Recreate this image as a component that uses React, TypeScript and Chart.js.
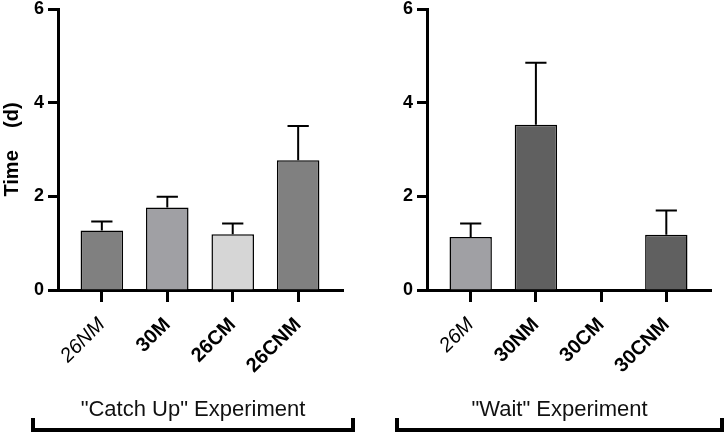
import React, { useEffect, useRef } from "react";
import { Chart, registerables } from "chart.js";

Chart.register(...registerables);

// ---- data ----
const catchUpLabels = ["26NM", "30M", "26CM", "26CNM"];
const catchUpValues = [1.27, 1.76, 1.19, 2.77];
const catchUpErrors = [0.19, 0.23, 0.23, 0.73];
const catchUpColors = ["#808080", "#a0a0a4", "#d6d6d6", "#808080"];
const catchUpItalic = [true, false, false, false];

const waitLabels = ["26M", "30NM", "30CM", "30CNM"];
const waitValues = [1.13, 3.53, 0, 1.18];
const waitErrors = [0.29, 1.32, 0, 0.52];
const waitColors = ["#a0a0a4", "#606060", "#606060", "#606060"];
const waitItalic = [true, false, false, false];

const yTicks = [0, 2, 4, 6];
const groupTitles = ['"Catch Up" Experiment', '"Wait" Experiment'];
const yTitle = "Time    (d)";

const FONT = "'Liberation Sans', Arial, Helvetica, sans-serif";

const errorBarPlugin = {
  id: "errorBars",
  afterDatasetsDraw(chart: any) {
    const ctx = chart.ctx;
    const yScale = chart.scales.y;
    chart.data.datasets.forEach((ds: any, di: number) => {
      const meta = chart.getDatasetMeta(di);
      const errs: number[] = ds.errors || [];
      meta.data.forEach((bar: any, i: number) => {
        const e = errs[i];
        const v = ds.data[i].y;
        if (!e) return;
        const yTop = yScale.getPixelForValue(v + e);
        const yBase = yScale.getPixelForValue(v);
        const w = bar.width / 2;
        ctx.save();
        ctx.strokeStyle = "#000";
        ctx.lineWidth = 2;
        ctx.beginPath();
        ctx.moveTo(bar.x, yBase);
        ctx.lineTo(bar.x, yTop);
        ctx.moveTo(bar.x - w / 2, yTop);
        ctx.lineTo(bar.x + w / 2, yTop);
        ctx.stroke();
        ctx.restore();
      });
    });
  },
};

function BarPanel(props: {
  labels: string[];
  values: number[];
  errors: number[];
  colors: string[];
  italic: boolean[];
  showTitle: boolean;
  yWidth: number;
  padRight: number;
}) {
  const ref = useRef<HTMLCanvasElement>(null);
  useEffect(() => {
    if (!ref.current) return;
    const { labels, values, errors, colors, italic, showTitle, yWidth, padRight } = props;
    const chart = new Chart(ref.current, {
      type: "bar",
      data: {
        datasets: [
          {
            data: values.map((v, i) => ({ x: i, y: v })),
            errors,
            backgroundColor: colors,
            borderColor: "#000",
            borderWidth: 1.5,
            borderSkipped: "bottom",
            categoryPercentage: 1,
            barPercentage: 0.65,
          } as any,
        ],
      },
      options: {
        animation: false,
        responsive: false,
        maintainAspectRatio: false,
        layout: { padding: { top: 9, right: padRight, bottom: 0, left: 0 } },
        plugins: { legend: { display: false }, tooltip: { enabled: false } },
        scales: {
          x: {
            type: "linear",
            offset: false,
            min: -0.67,
            max: 3.67,
            afterBuildTicks: (scale: any) => {
              scale.ticks = labels.map((_, i) => ({ value: i }));
            },
            afterFit: (scale: any) => {
              scale.height = 144;
              scale.paddingLeft = 0;
              scale.paddingRight = 0;
            },
            grid: {
              offset: false,
              display: true,
              drawOnChartArea: false,
              drawTicks: true,
              tickLength: 12,
              tickWidth: 3,
              lineWidth: 3,
              color: "#000",
              tickColor: "#000",
            },
            border: { display: true, color: "#000", width: 3 },
            ticks: {
              autoSkip: false,
              minRotation: 45,
              maxRotation: 45,
              padding: 11,
              color: "#000",
              font: (ctx: any) => ({
                family: FONT,
                size: 20,
                weight: italic[ctx.index] ? "normal" : "bold",
                style: italic[ctx.index] ? "italic" : "normal",
              }),
              callback: (value: any) => labels[Math.round(Number(value))] ?? "",
            },
          },
          y: {
            min: 0,
            max: 6,
            afterBuildTicks: (scale: any) => {
              scale.ticks = yTicks.map((v) => ({ value: v }));
            },
            afterFit: (scale: any) => {
              scale.width = yWidth;
              scale.paddingTop = 0;
              scale.paddingBottom = 0;
            },
            grid: {
              drawOnChartArea: false,
              drawTicks: true,
              tickLength: 10,
              tickWidth: 3,
              tickColor: "#000",
            },
            border: { display: true, color: "#000", width: 3 },
            ticks: {
              padding: 4,
              color: "#000",
              font: { family: FONT, size: 18, weight: "bold" },
            },
            title: {
              display: showTitle,
              text: yTitle,
              color: "#000",
              padding: { top: 0, bottom: 0 },
              font: { family: FONT, size: 20, weight: "bold" },
            },
          },
        },
      },
      plugins: [errorBarPlugin],
    });
    return () => chart.destroy();
  }, []);
  return <canvas ref={ref} width={363} height={434} style={{ width: 363, height: 434, display: "block" }} />;
}

function Bracket(props: { left: number; width: number; title: string }) {
  return (
    <>
      <div
        style={{
          position: "absolute",
          left: props.left,
          width: props.width,
          top: 394,
          textAlign: "center",
          fontFamily: FONT,
          fontSize: 22,
          lineHeight: "30px",
          color: "#111",
          whiteSpace: "nowrap",
        }}
      >
        {props.title}
      </div>
      <div
        style={{
          position: "absolute",
          left: props.left,
          width: props.width - 8,
          top: 418,
          height: 10,
          borderLeft: "4px solid #000",
          borderRight: "4px solid #000",
          borderBottom: "4px solid #000",
        }}
      />
    </>
  );
}

export default function App() {
  useEffect(() => {
    document.body.style.margin = "0";
  }, []);
  return (
    <div style={{ position: "fixed", left: 0, top: 0, width: 726, height: 434, background: "#fff", overflow: "hidden" }}>
      <div style={{ position: "absolute", left: 0, top: 0 }}>
        <BarPanel
          labels={catchUpLabels}
          values={catchUpValues}
          errors={catchUpErrors}
          colors={catchUpColors}
          italic={catchUpItalic}
          showTitle={true}
          yWidth={58}
          padRight={21}
        />
      </div>
      <div style={{ position: "absolute", left: 363, top: 0 }}>
        <BarPanel
          labels={waitLabels}
          values={waitValues}
          errors={waitErrors}
          colors={waitColors}
          italic={waitItalic}
          showTitle={false}
          yWidth={64}
          padRight={16}
        />
      </div>
      <Bracket left={31} width={324} title={groupTitles[0]} />
      <Bracket left={395} width={329} title={groupTitles[1]} />
    </div>
  );
}
